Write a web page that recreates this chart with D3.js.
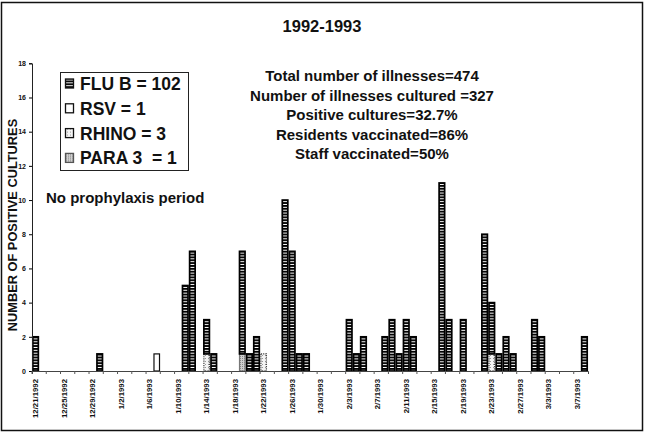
<!DOCTYPE html>
<html>
<head>
<meta charset="utf-8">
<script src="https://cdn.jsdelivr.net/npm/d3@7/dist/d3.min.js"></script>
<style>
  body { margin: 0; background: #fff; }
  svg { display: block; font-family: "Liberation Sans", Arial, sans-serif; font-weight: bold; }
</style>
</head>
<body>
<svg id="chart" width="646" height="437"></svg>
<script>
// one category per day, 12/21/1992 .. 3/8/1993
const firstDay = new Date(1992, 11, 21);
const lastDay = new Date(1993, 2, 9);

// FLU B positives per day (78 days)
const fluB = [
  2, 0, 0, 0, 0, 0, 0, 0, 0, 1,
  0, 0, 0, 0, 0, 0, 0, 0, 0, 0,
  0, 5, 7, 0, 2, 1, 0, 0, 0, 6,
  1, 2, 0, 0, 0, 10, 7, 1, 1, 0,
  0, 0, 0, 0, 3, 1, 2, 0, 0, 2,
  3, 1, 3, 2, 0, 0, 0, 11, 3, 0,
  3, 0, 0, 8, 3, 1, 2, 1, 0, 0,
  3, 2, 0, 0, 0, 0, 0, 2
];
// other viruses: [date, count]
const rsv = [['1/7/1993', 1]];
const rhino = [['1/14/1993', 1], ['1/22/1993', 1], ['2/23/1993', 1]];
const para3 = [['1/19/1993', 1]];

const tickLabels = ['12/21/1992', '12/25/1992', '12/29/1992', '1/2/1993', '1/6/1993',
  '1/10/1993', '1/14/1993', '1/18/1993', '1/22/1993', '1/26/1993', '1/30/1993',
  '2/3/1993', '2/7/1993', '2/11/1993', '2/15/1993', '2/19/1993', '2/23/1993',
  '2/27/1993', '3/3/1993', '3/7/1993'];
const yTicks = [0, 2, 4, 6, 8, 10, 12, 14, 16, 18];

const legendItems = ['FLU B = 102', 'RSV = 1', 'RHINO = 3', 'PARA 3  = 1'];
const notes = ['Total number of illnesses=474', 'Number of illnesses cultured =327',
  'Positive cultures=32.7%', 'Residents vaccinated=86%', 'Staff vaccinated=50%'];

const fmt = d3.timeFormat('%-m/%-d/%Y');
const days = d3.timeDay.range(firstDay, lastDay).map(fmt);

const lookup = list => new Map(list);
const rsvMap = lookup(rsv), rhinoMap = lookup(rhino), paraMap = lookup(para3);

const rows = days.map((d, i) => ({
  day: d,
  rsv: rsvMap.get(d) || 0,
  rhino: rhinoMap.get(d) || 0,
  para: paraMap.get(d) || 0,
  flu: fluB[i]
}));

const keys = ['rsv', 'rhino', 'para', 'flu'];
const stacked = d3.stack().keys(keys)(rows);

const svg = d3.select('#chart');

// patterns
const defs = svg.append('defs');
const pFlu = defs.append('pattern').attr('id', 'flu')
  .attr('patternUnits', 'userSpaceOnUse').attr('width', 8).attr('height', 2.86);
pFlu.append('rect').attr('width', 8).attr('height', 2.86).attr('fill', '#000');
pFlu.append('rect').attr('y', 0.9).attr('width', 8).attr('height', 1.0).attr('fill', '#fff');

const pRhino = defs.append('pattern').attr('id', 'rhino')
  .attr('patternUnits', 'userSpaceOnUse').attr('width', 3).attr('height', 3);
pRhino.append('rect').attr('width', 3).attr('height', 3).attr('fill', '#f4f4f4');
pRhino.append('rect').attr('x', 1).attr('y', 1).attr('width', 1).attr('height', 1).attr('fill', '#999');

const pPara = defs.append('pattern').attr('id', 'para')
  .attr('patternUnits', 'userSpaceOnUse').attr('width', 2).attr('height', 2);
pPara.append('rect').attr('width', 2).attr('height', 2).attr('fill', '#cfcfcf');
pPara.append('rect').attr('width', 1).attr('height', 1).attr('fill', '#888');

const fills = { flu: 'url(#flu)', rsv: '#fff', rhino: 'url(#rhino)', para: 'url(#para)' };
const strokes = { flu: '#000', rsv: '#111', rhino: '#444', para: '#777' };

// outer frame
svg.append('rect').attr('x', 1.5).attr('y', 2.5).attr('width', 641).attr('height', 428)
  .attr('fill', 'none').attr('stroke', '#111').attr('stroke-width', 1.5);

const x = d3.scaleBand().domain(days).range([32, 588]).padding(0);
const y = d3.scaleLinear().domain([0, 18]).range([371, 63.3]);

// bars
svg.append('g').selectAll('g')
  .data(stacked)
  .enter()
  .append('g')
  .selectAll('rect')
  .data(s => s.filter(d => d[1] > d[0]).map(d => ({ key: s.key, v: d })))
  .enter()
  .append('rect')
  .attr('x', d => x(d.v.data.day) + 0.8)
  .attr('width', x.bandwidth() - 1.6)
  .attr('y', d => y(d.v[1]))
  .attr('height', d => y(d.v[0]) - y(d.v[1]))
  .attr('fill', d => fills[d.key])
  .attr('stroke', d => strokes[d.key])
  .attr('stroke-width', d => d.key === 'flu' ? 1.7 : 1.2)
  .attr('stroke-dasharray', d => d.key === 'rhino' ? '1.2,1' : null);

// y axis
const yAxis = svg.append('g').attr('transform', 'translate(32,0)')
  .call(d3.axisLeft(y).tickValues(yTicks).tickSize(3).tickPadding(3));
yAxis.select('.domain').attr('stroke', '#222');
yAxis.selectAll('text').attr('font-size', 7).attr('font-weight', 'bold').attr('fill', '#111');

// x axis
const xAxis = svg.append('g').attr('transform', 'translate(0,371)')
  .call(d3.axisBottom(x).tickValues(days.filter((d, i) => i % 2 === 0)).tickSize(3).tickFormat(''));
xAxis.select('.domain').attr('stroke', '#444');
xAxis.selectAll('.tick').attr('transform', d => 'translate(' + x(d) + ',0)');
xAxis.selectAll('line').attr('stroke', '#555');

svg.append('g').selectAll('text')
  .data(tickLabels)
  .enter()
  .append('text')
  .attr('transform', d => 'translate(' + (x(d) + x.bandwidth() / 2 + 2.7) + ',379) rotate(-90)')
  .attr('text-anchor', 'end')
  .attr('font-size', 7.8)
  .attr('fill', '#111')
  .text(d => d);

// axis title
svg.append('text')
  .attr('transform', 'translate(17,225) rotate(-90)')
  .attr('text-anchor', 'middle')
  .attr('font-size', 12.8)
  .attr('fill', '#111')
  .text('NUMBER OF POSITIVE CULTURES');

// title
svg.append('text').attr('x', 322).attr('y', 32).attr('text-anchor', 'middle')
  .attr('font-size', 16.5).attr('fill', '#111').text('1992-1993');

// notes
svg.append('g').selectAll('text')
  .data(notes)
  .enter()
  .append('text')
  .attr('x', 372)
  .attr('y', (d, i) => 81 + i * 19.6)
  .attr('text-anchor', 'middle')
  .attr('font-size', 15)
  .attr('fill', '#111')
  .text(d => d);

// legend
const legend = svg.append('g');
legend.append('rect').attr('x', 60.5).attr('y', 72.5).attr('width', 128).attr('height', 98)
  .attr('fill', '#fff').attr('stroke', '#222').attr('stroke-width', 1);
const legendKeys = ['flu', 'rsv', 'rhino', 'para'];
const item = legend.selectAll('g.item')
  .data(legendItems)
  .enter()
  .append('g')
  .attr('class', 'item')
  .attr('transform', (d, i) => 'translate(0,' + (90 + i * 24.8) + ')');
item.append('rect')
  .attr('x', 65.5).attr('y', -11).attr('width', 8).attr('height', 9)
  .attr('fill', (d, i) => fills[legendKeys[i]])
  .attr('stroke', (d, i) => i === 3 ? '#555' : '#111')
  .attr('stroke-width', 1.3);
item.append('text')
  .attr('x', 80)
  .attr('font-size', 17.5)
  .attr('fill', '#111')
  .style('white-space', 'pre')
  .text(d => d);

svg.append('text').attr('x', 46).attr('y', 203)
  .attr('font-size', 15).attr('fill', '#111').text('No prophylaxis period');
</script>
</body>
</html>
